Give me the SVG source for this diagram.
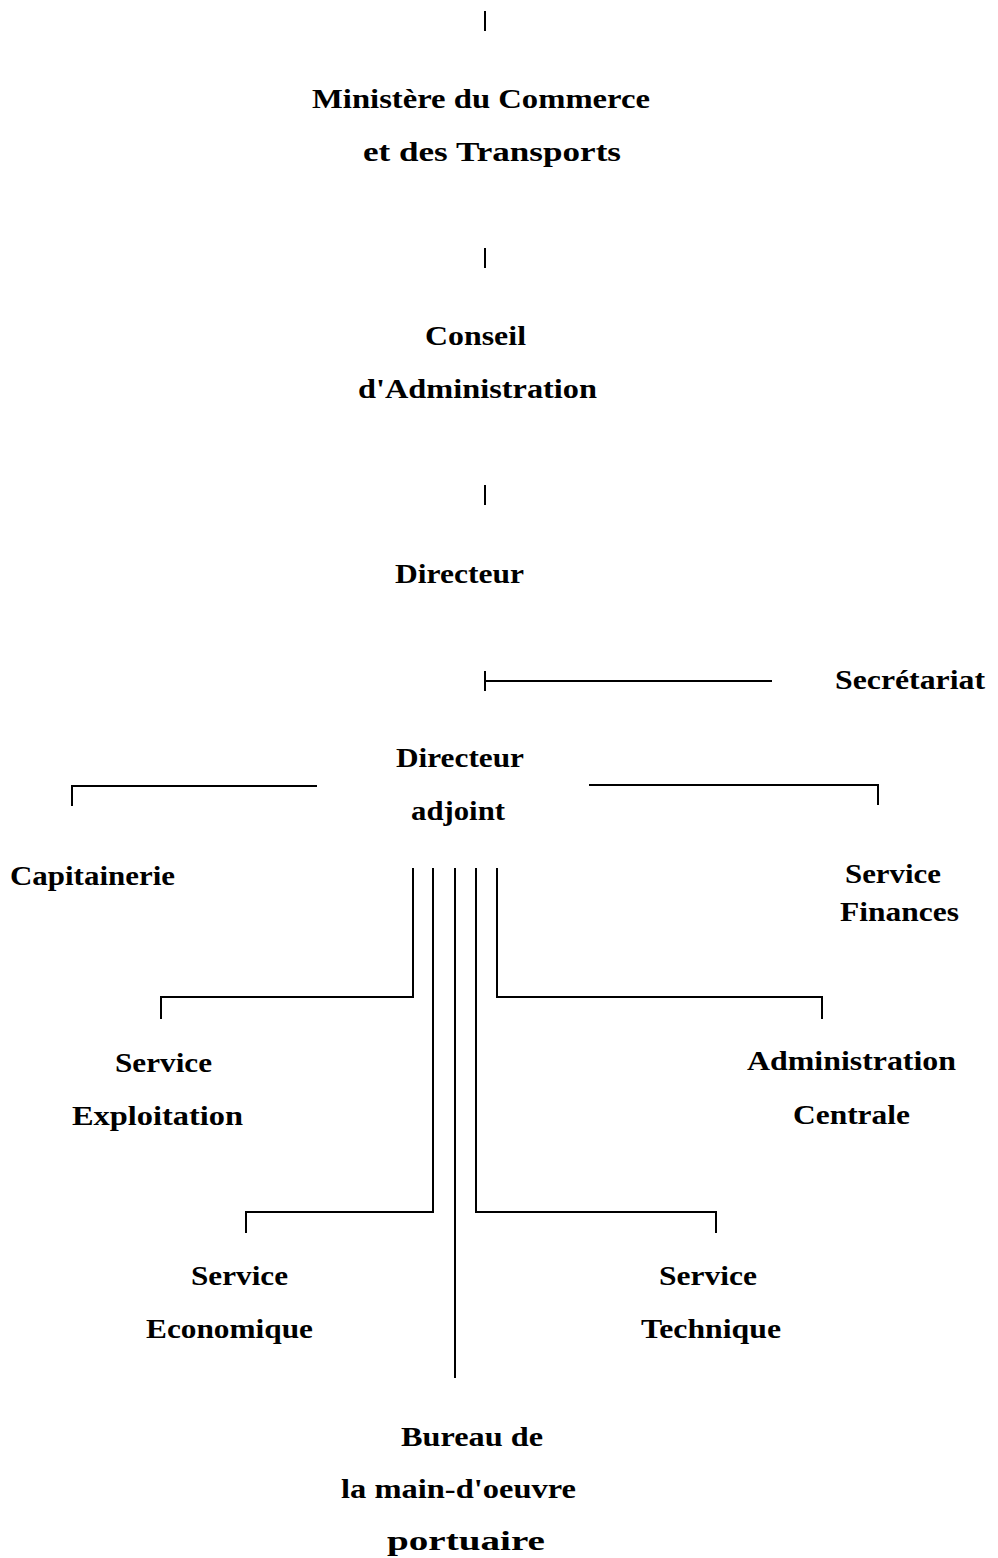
<svg xmlns="http://www.w3.org/2000/svg" width="998" height="1558" viewBox="0 0 998 1558">
<style>
text{font-family:"Liberation Serif","DejaVu Serif",serif;font-weight:bold;font-size:27px;fill:#000}
.c{stroke:#000;stroke-width:2;fill:none}
</style>
<rect width="998" height="1558" fill="#fff"/>
<g id="connectors">
<line class="c" x1="485" y1="11" x2="485" y2="31"/>
<line class="c" x1="485" y1="248" x2="485" y2="268"/>
<line class="c" x1="485" y1="485" x2="485" y2="505"/>
<line class="c" x1="485" y1="671" x2="485" y2="691"/>
<line class="c" x1="485" y1="681" x2="772" y2="681"/>
<path class="c" d="M317,786 H72 V806"/>
<path class="c" d="M589,785 H878 V805"/>
<path class="c" d="M413,868 V997 H161 V1019"/>
<path class="c" d="M497,868 V997 H822 V1019"/>
<path class="c" d="M433,868 V1212 H246 V1233"/>
<path class="c" d="M476,868 V1212 H716 V1233"/>
<path class="c" d="M455,868 V1378"/>
</g>
<g id="ministere">
<text x="312" y="108" textLength="338" lengthAdjust="spacingAndGlyphs">Ministère du Commerce</text>
<text x="363" y="161" textLength="258" lengthAdjust="spacingAndGlyphs">et des Transports</text>
</g>
<g id="conseil">
<text x="425" y="345" textLength="101" lengthAdjust="spacingAndGlyphs">Conseil</text>
<text x="358" y="398" textLength="239" lengthAdjust="spacingAndGlyphs">d'Administration</text>
</g>
<g id="directeur">
<text x="395" y="583" textLength="129" lengthAdjust="spacingAndGlyphs">Directeur</text>
</g>
<g id="secretariat">
<text x="835" y="689" textLength="150" lengthAdjust="spacingAndGlyphs">Secrétariat</text>
</g>
<g id="directeur-adjoint">
<text x="396" y="767" textLength="128" lengthAdjust="spacingAndGlyphs">Directeur</text>
<text x="411" y="820" textLength="94" lengthAdjust="spacingAndGlyphs">adjoint</text>
</g>
<g id="capitainerie">
<text x="10" y="885" textLength="165" lengthAdjust="spacingAndGlyphs">Capitainerie</text>
</g>
<g id="finances">
<text x="845" y="883" textLength="96" lengthAdjust="spacingAndGlyphs">Service</text>
<text x="840" y="921" textLength="119" lengthAdjust="spacingAndGlyphs">Finances</text>
</g>
<g id="exploitation">
<text x="115" y="1072" textLength="97" lengthAdjust="spacingAndGlyphs">Service</text>
<text x="72" y="1125" textLength="171" lengthAdjust="spacingAndGlyphs">Exploitation</text>
</g>
<g id="administration">
<text x="747" y="1070" textLength="209" lengthAdjust="spacingAndGlyphs">Administration</text>
<text x="793" y="1124" textLength="117" lengthAdjust="spacingAndGlyphs">Centrale</text>
</g>
<g id="economique">
<text x="191" y="1285" textLength="97" lengthAdjust="spacingAndGlyphs">Service</text>
<text x="146" y="1338" textLength="167" lengthAdjust="spacingAndGlyphs">Economique</text>
</g>
<g id="technique">
<text x="659" y="1285" textLength="98" lengthAdjust="spacingAndGlyphs">Service</text>
<text x="641" y="1338" textLength="140" lengthAdjust="spacingAndGlyphs">Technique</text>
</g>
<g id="bureau">
<text x="401" y="1446" textLength="142" lengthAdjust="spacingAndGlyphs">Bureau de</text>
<text x="341" y="1498" textLength="235" lengthAdjust="spacingAndGlyphs">la main-d'oeuvre</text>
<text x="387" y="1550" textLength="158" lengthAdjust="spacingAndGlyphs">portuaire</text>
</g>
</svg>
